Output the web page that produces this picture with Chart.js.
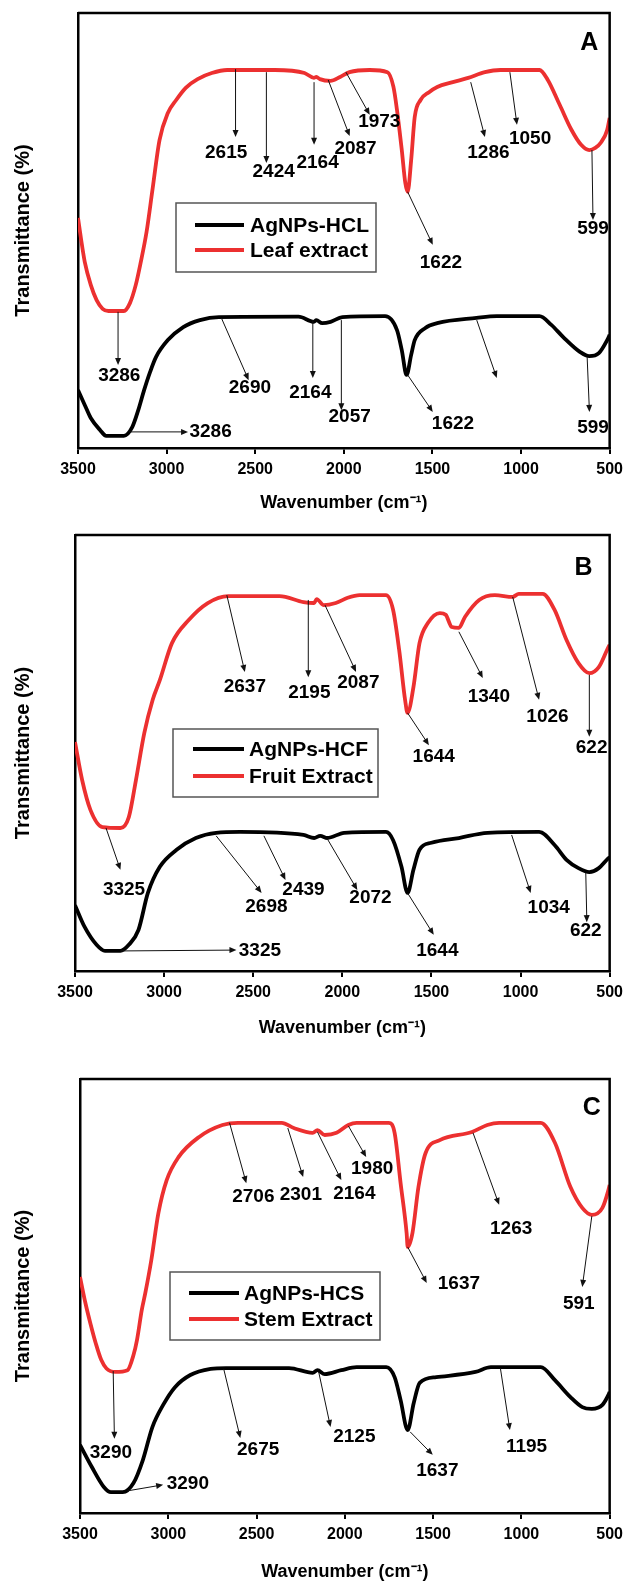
<!DOCTYPE html>
<html><head><meta charset="utf-8">
<script src="https://cdn.jsdelivr.net/npm/chart.js@4.4.1/dist/chart.umd.min.js"></script>
<style>
html,body{margin:0;padding:0;background:#fff;}
body{width:629px;height:1583px;position:relative;overflow:hidden;}
canvas{position:absolute;left:0;display:block;}
</style></head><body>
<canvas id="cA" width="629" height="520" style="top:0px"></canvas>
<canvas id="cB" width="629" height="525" style="top:520px"></canvas>
<canvas id="cC" width="629" height="538" style="top:1045px"></canvas>
<script>
const FONT = "'Liberation Sans', Arial, Helvetica, sans-serif";
const RED = '#ec3030';
const BLACK = '#000000';
const xTickValues = [3500, 3000, 2500, 2000, 1500, 1000, 500];

// ---------- Panel A ----------
const aLabels = ['AgNPs-HCL', 'Leaf extract'];
const aAgWn = [3500,3462,3428,3375,3341,3241,3194,3160,3127,3093,3060,2993,2906,2812,2705,2256,2169,2155,2122,2075,2008,1767,1700,1673,1646,1620,1600,1540,1473,1251,1137,896,829,762,668,615,561,514,500];
const aAgT  = [13.3,9.9,6.9,4.1,2.8,2.8,4.8,8.7,13.3,17.5,20.9,24.8,27.8,29.4,30.1,30.2,29.0,29.4,28.7,29.0,30.1,30.3,27.1,22.5,16.8,21.4,24.8,27.6,28.7,29.9,30.3,30.3,28.3,25.5,22.1,21.1,21.8,24.8,26.0];
const aExWn = [3500,3482,3462,3428,3395,3361,3328,3241,3207,3174,3147,3113,3080,3040,2993,2946,2892,2825,2745,2658,2390,2222,2169,2155,2135,2075,2021,1968,1854,1754,1720,1700,1673,1653,1640,1620,1600,1567,1519,1473,1385,1298,1204,1117,896,849,782,715,661,615,581,548,514,500];
const aExT  = [52.9,47.8,42.8,37.5,34.0,32.0,31.5,31.5,33.3,37.5,42.5,49.7,59.3,70.8,77.0,80.0,82.8,84.8,86.2,86.9,86.9,86.2,85.1,85.3,84.8,84.4,85.3,86.4,86.9,86.4,83.0,77.7,68.5,60.9,58.9,66.2,76.1,80.0,81.8,83.0,84.1,85.1,86.4,86.9,86.9,84.6,78.9,73.1,69.7,68.5,69.0,70.3,73.1,75.9];
const aNotes = [
  {t:'2615', from:[2611,87.1], to:[2611,71.5], at:[2664,67.8]},
  {t:'2424', from:[2437,86.4], to:[2437,65.5], at:[2396,63.4]},
  {t:'2164', from:[2168,84.1], to:[2168,69.7], at:[2148,65.5]},
  {t:'2087', from:[2088,84.6], to:[1967,71.7], at:[1934,68.7]},
  {t:'1973', from:[1988,86.4], to:[1854,76.6], at:[1800,74.9]},
  {t:'1286', from:[1284,84.1], to:[1204,71.5], at:[1184,67.8]},
  {t:'1050', from:[1063,86.4], to:[1023,74.3], at:[949,71.0]},
  {t:'599',  from:[600,68.5],  to:[594,52.4],  at:[594,50.3]},
  {t:'1622', from:[1640,58.9], to:[1498,46.7], at:[1452,42.5]},
  {t:'3286', from:[3274,31.3], to:[3274,19.1], at:[3267,16.6]},
  {t:'2690', from:[2691,29.9], to:[2537,15.6], at:[2530,13.8]},
  {t:'2164', from:[2175,29.4], to:[2175,16.1], at:[2189,12.6]},
  {t:'2057', from:[2014,29.4], to:[2014,8.7],  at:[1967,7.1]},
  {t:'1622', from:[1640,16.8], to:[1498,8.3],  at:[1384,5.5]},
  {t:'',     from:[1250,29.4], to:[1137,16.1]},
  {t:'599',  from:[627,20.9],  to:[614,8.3],   at:[594,4.6]},
  {t:'3286', from:[3213,3.7],  to:[2879,3.7],  at:[2871,3.7], align:'left'}
];

// ---------- Panel B ----------
const bLabels = ['AgNPs-HCF', 'Fruit Extract'];
const bAgWn = [3500,3446,3379,3332,3245,3198,3144,3091,3024,2930,2822,2708,2574,2218,2158,2124,2084,1990,1755,1715,1668,1634,1601,1567,1500,1346,1185,896,809,742,675,614,561,507,500];
const bAgT  = [15.1,10.1,6.0,4.6,4.6,6.0,9.4,17.9,23.9,27.8,30.5,31.7,31.9,31.2,30.5,31.0,30.5,31.7,31.9,30.0,23.9,17.9,23.2,27.8,29.4,30.5,31.7,31.9,28.9,25.5,23.6,22.7,23.6,25.9,26.1];
const bExWn = [3500,3460,3413,3346,3245,3198,3158,3111,3064,3024,2956,2862,2755,2641,2352,2218,2158,2144,2104,2037,1970,1903,1755,1715,1681,1648,1634,1601,1567,1520,1453,1420,1386,1346,1312,1232,1144,1044,1010,876,809,742,675,614,561,507,500];
const bExT  = [52.5,43.8,36.9,33.0,32.8,35.3,43.8,54.6,62.2,66.7,75.2,80.5,84.4,86.0,86.0,84.6,84.4,85.3,83.9,84.4,85.6,86.2,86.2,82.8,73.6,62.2,59.2,65.1,75.2,79.8,82.1,81.7,78.9,78.7,81.2,85.1,86.2,85.8,86.5,86.5,82.8,75.9,70.6,68.3,69.7,74.3,74.8];
const bNotes = [
  {t:'2637', from:[2648,86.2], to:[2547,68.6], at:[2547,65.1]},
  {t:'2195', from:[2191,85.1], to:[2191,67.4], at:[2185,63.8]},
  {t:'2087', from:[2097,83.9], to:[1923,68.6], at:[1910,66.1]},
  {t:'1644', from:[1634,59.2], to:[1514,51.8], at:[1487,49.1]},
  {t:'1340', from:[1346,77.8], to:[1212,67.2], at:[1178,62.8]},
  {t:'1026', from:[1044,85.8], to:[896,62.2],  at:[849,58.3]},
  {t:'622',  from:[614,67.9],  to:[614,53.7],  at:[601,51.1]},
  {t:'3325', from:[3326,32.8], to:[3245,23.2], at:[3225,18.6]},
  {t:'2698', from:[2708,31.0], to:[2453,17.9], at:[2426,14.7]},
  {t:'2439', from:[2440,31.0], to:[2319,20.9], at:[2218,18.6]},
  {t:'2072', from:[2084,30.3], to:[1916,18.6], at:[1842,16.7]},
  {t:'1644', from:[1634,17.9], to:[1487,8.3],  at:[1467,4.6]},
  {t:'1034', from:[1050,31.2], to:[943,17.9],  at:[842,14.4]},
  {t:'622',  from:[634,22.5],  to:[628,11.2],  at:[634,9.2]},
  {t:'3325', from:[3245,4.6],  to:[2594,4.8],  at:[2581,4.6], align:'left'}
];

// ---------- Panel C ----------
const cLabels = ['AgNPs-HCS', 'Stem Extract'];
const cAgWn = [3500,3433,3365,3325,3258,3197,3144,3090,3029,2962,2875,2760,2673,2316,2182,2155,2114,2020,1933,1765,1718,1684,1644,1610,1576,1482,1260,1173,890,810,722,655,601,541,507,500];
const cAgT  = [15.7,10.6,6.0,4.8,4.8,6.9,12.2,19.8,24.9,29.0,31.8,33.2,33.4,33.4,32.3,32.9,32.0,32.9,33.6,33.6,31.3,26.0,19.1,25.3,30.0,31.3,32.5,33.6,33.6,30.6,26.7,24.4,24.0,24.9,27.2,27.9];
const cExWn = [3500,3470,3440,3410,3380,3350,3300,3231,3197,3177,3150,3130,3096,3056,3009,2942,2827,2693,2605,2357,2289,2182,2155,2114,2047,1980,1933,1751,1718,1684,1650,1644,1617,1583,1543,1462,1280,1193,1126,890,810,722,655,601,541,507,500];
const cExT  = [54.4,48.5,43.5,39.0,35.3,33.3,32.5,32.9,36.4,39.9,46.8,50.7,58.3,69.1,76.7,82.0,86.6,89.4,89.9,89.9,88.7,87.6,88.2,87.1,87.6,89.4,89.9,89.9,87.6,76.0,64.5,61.3,64.5,75.1,82.9,85.9,87.8,89.4,89.9,89.9,85.3,75.1,70.3,68.7,70.3,74.4,75.6];
const cNotes = [
  {t:'2706', from:[2653,89.9], to:[2558,76.0], at:[2518,72.8]},
  {t:'2301', from:[2323,88.7], to:[2236,77.4], at:[2249,73.3]},
  {t:'2164', from:[2155,87.8], to:[2020,76.7], at:[1946,73.5]},
  {t:'1980', from:[1980,89.2], to:[1879,82.0], at:[1845,79.3]},
  {t:'1637', from:[1644,61.3], to:[1536,53.0], at:[1354,52.8]},
  {t:'1263', from:[1274,87.6], to:[1126,71.0], at:[1058,65.4]},
  {t:'591',  from:[601,68.4],  to:[655,52.1],  at:[675,48.2]},
  {t:'3290', from:[3312,32.7], to:[3305,17.1], at:[3325,13.8]},
  {t:'2675', from:[2686,33.2], to:[2592,17.3], at:[2491,14.5]},
  {t:'2125', from:[2148,32.5], to:[2081,19.8], at:[1946,17.5]},
  {t:'1637', from:[1630,18.7], to:[1502,13.4], at:[1476,9.7]},
  {t:'1195', from:[1119,33.4], to:[1065,19.1], at:[971,15.2]},
  {t:'3290', from:[3231,5.1],  to:[3029,6.5],  at:[3009,6.7], align:'left'}
];

function pts(wn, t){ return wn.map((w,i)=>({x:w, y:t[i]})); }

function drawArrow(ctx, x1, y1, x2, y2){
  const ang = Math.atan2(y2-y1, x2-x1);
  const L = 7, W = 3;
  ctx.beginPath();
  ctx.moveTo(x1, y1);
  ctx.lineTo(x2 - Math.cos(ang)*L*0.8, y2 - Math.sin(ang)*L*0.8);
  ctx.stroke();
  ctx.beginPath();
  ctx.moveTo(x2, y2);
  ctx.lineTo(x2 - Math.cos(ang)*L + Math.sin(ang)*W, y2 - Math.sin(ang)*L - Math.cos(ang)*W);
  ctx.lineTo(x2 - Math.cos(ang)*L - Math.sin(ang)*W, y2 - Math.sin(ang)*L + Math.cos(ang)*W);
  ctx.closePath();
  ctx.fill();
}

const annotPlugin = {
  id: 'irAnnot',
  afterDatasetsDraw(chart) {
    const cfg = chart.options.plugins.irAnnot;
    const {ctx, chartArea: ca, scales: {x, y}} = chart;
    ctx.save();
    // frame (top/right edges)
    ctx.strokeStyle = '#000'; ctx.lineWidth = 2.5;
    ctx.beginPath();
    ctx.moveTo(ca.left, ca.top); ctx.lineTo(ca.right, ca.top); ctx.lineTo(ca.right, ca.bottom);
    ctx.stroke();
    // arrows
    ctx.strokeStyle = '#111'; ctx.fillStyle = '#111'; ctx.lineWidth = 1;
    cfg.notes.forEach(n => {
      drawArrow(ctx, x.getPixelForValue(n.from[0]), y.getPixelForValue(n.from[1]),
                     x.getPixelForValue(n.to[0]), y.getPixelForValue(n.to[1]));
    });
    // labels
    ctx.fillStyle = '#000';
    ctx.font = 'bold 19px ' + FONT;
    ctx.textBaseline = 'middle';
    cfg.notes.forEach(n => {
      if (!n.t) return;
      ctx.textAlign = n.align || 'center';
      ctx.fillText(n.t, x.getPixelForValue(n.at[0]), y.getPixelForValue(n.at[1]));
    });
    // panel letter
    ctx.font = 'bold 25px ' + FONT;
    ctx.textAlign = 'center';
    ctx.fillText(cfg.letter.t, x.getPixelForValue(cfg.letter.at[0]), y.getPixelForValue(cfg.letter.at[1]));
    // legend
    const lg = cfg.legend;
    const bx = ca.left + lg.x, by = ca.top + lg.y;
    ctx.strokeStyle = '#555'; ctx.lineWidth = 1.5;
    ctx.strokeRect(bx, by, lg.w, lg.h);
    ctx.font = 'bold 21px ' + FONT;
    ctx.textAlign = 'left';
    chart.data.datasets.forEach((ds, i) => {
      const ly = by + lg.rows[i];
      ctx.strokeStyle = ds.borderColor; ctx.lineWidth = 4;
      ctx.beginPath(); ctx.moveTo(bx + lg.l0, ly); ctx.lineTo(bx + lg.l1, ly); ctx.stroke();
      ctx.fillStyle = '#000';
      ctx.fillText(ds.label, bx + lg.tx, ly + 1);
    });
    ctx.restore();
  }
};

function makeChart(id, labels, agWn, agT, exWn, exT, notes, letter, legend, lay) {
  return new Chart(document.getElementById(id), {
    type: 'line',
    data: {
      datasets: [
        {label: labels[0], data: pts(agWn, agT), borderColor: BLACK, borderWidth: 3.8, pointRadius: 0, cubicInterpolationMode: 'monotone', fill: false},
        {label: labels[1], data: pts(exWn, exT), borderColor: RED, borderWidth: 3.8, pointRadius: 0, cubicInterpolationMode: 'monotone', fill: false}
      ]
    },
    options: {
      responsive: false, animation: false, events: [],
      layout: {padding: {top: lay.top, right: lay.right, bottom: 0, left: 0}},
      plugins: {
        legend: {display: false}, tooltip: {enabled: false},
        irAnnot: {notes: notes, letter: letter, legend: legend}
      },
      scales: {
        x: {
          type: 'linear', reverse: true, min: 500, max: 3500,
          afterBuildTicks: s => { s.ticks = xTickValues.map(v => ({value: v})); },
          ticks: {color: '#000', font: {family: FONT, size: 16, weight: 'bold'}, padding: 6, maxRotation: 0, autoSkip: false,
                  callback: v => String(v)},
          grid: {display: true, drawOnChartArea: false, drawTicks: true, tickLength: 6, color: '#000', lineWidth: 2},
          border: {display: true, color: '#000', width: 2.5},
          title: {display: true, text: 'Wavenumber (cm⁻¹)', color: '#000', font: {family: FONT, size: 18, weight: 'bold'}, padding: {top: 0, bottom: lay.tpad}},
          afterFit: s => { s.height = lay.xh; }
        },
        y: {
          min: 0, max: 100,
          ticks: {display: false},
          grid: {display: false},
          border: {display: true, color: '#000', width: 2.5},
          title: {display: true, text: 'Transmittance (%)', color: '#000', font: {family: FONT, size: 20, weight: 'bold'}, padding: {top: 11, bottom: 0}},
          afterFit: s => { s.width = lay.yw; }
        }
      }
    },
    plugins: [annotPlugin]
  });
}

makeChart('cA', aLabels, aAgWn, aAgT, aExWn, aExT, aNotes,
  {t: 'A', at: [615, 93.1]},
  {x: 98, y: 190, w: 200, h: 69, rows: [22, 47], l0: 19, l1: 68, tx: 74},
  {top: 13, right: 15, yw: 78, xh: 72, tpad: 6});
makeChart('cB', bLabels, bAgWn, bAgT, bExWn, bExT, bNotes,
  {t: 'B', at: [647, 92.4]},
  {x: 98, y: 194, w: 205, h: 68, rows: [20, 47], l0: 20, l1: 71, tx: 76},
  {top: 15, right: 17, yw: 75, xh: 74, tpad: 6});
makeChart('cC', cLabels, cAgWn, cAgT, cExWn, cExT, cNotes,
  {t: 'C', at: [601, 93.3]},
  {x: 90, y: 193, w: 210, h: 68, rows: [21, 47], l0: 19, l1: 69, tx: 74},
  {top: 34, right: 12, yw: 80, xh: 70, tpad: 0});
</script>
</body></html>
